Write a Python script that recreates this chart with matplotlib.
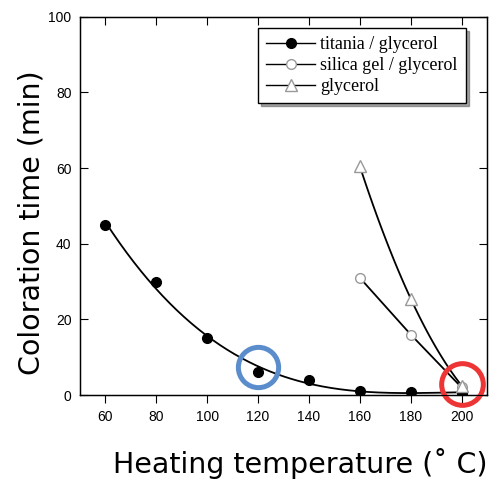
import numpy as np
import matplotlib
matplotlib.use("Agg")
import matplotlib.pyplot as plt
from matplotlib.lines import Line2D

# data
temp_titania = [60, 80, 100, 120, 140, 160, 180, 200]
time_titania = [45, 30, 15, 6, 4, 1, 0.8, 0.5]
temp_silica = [160, 180, 200]
time_silica = [31, 16, 2]
temp_glycerol = [160, 180, 200]
time_glycerol = [60.5, 25.5, 2.5]
xticks = [60, 80, 100, 120, 140, 160, 180, 200]
yticks = [0, 20, 40, 60, 80, 100]

fig = plt.figure(figsize=(4.9, 4.8), dpi=100)
ax = fig.add_axes([0.163, 0.177, 0.831, 0.788])

# smooth fits through the points
xs = np.linspace(60, 200, 200)
p = np.polyfit(temp_titania, time_titania, 3)
ax.plot(xs, np.polyval(p, xs), color="black", lw=1.3, zorder=2)
xs2 = np.linspace(160, 200, 100)
p2 = np.polyfit(temp_glycerol, time_glycerol, 2)
ax.plot(xs2, np.polyval(p2, xs2), color="black", lw=1.3, zorder=2)
ax.plot(temp_silica, time_silica, color="black", lw=1.3, zorder=2)

ax.plot(temp_titania, time_titania, "o", ms=7, color="black", zorder=3)
ax.plot(temp_silica, time_silica, "o", ms=7, mfc="white", mec="#999999", mew=1, zorder=3)
ax.plot(temp_glycerol, time_glycerol, "^", ms=8, mfc="white", mec="#999999", mew=1, zorder=3)

# highlight circles
ax.plot([120], [7.5], "o", ms=29, mfc="none", mec="#5b8ccc", mew=3.6, zorder=4, clip_on=False)
ax.plot([200], [3], "o", ms=30, mfc="none", mec="#ee3535", mew=3.6, zorder=4, clip_on=False)

ax.set_xlim(50, 210)
ax.set_ylim(0, 100)
ax.set_xticks(xticks)
ax.set_yticks(yticks)
ax.tick_params(axis="x", direction="out", length=6, labelsize=10, pad=5)
ax.tick_params(axis="y", direction="in", length=6, labelsize=10, pad=6, right=True)
for lab in ax.get_xticklabels() + ax.get_yticklabels():
    lab.set_family("Liberation Sans")
for s in ax.spines.values():
    s.set_linewidth(1.0)

# top ticks pointing inward
top = ax.twiny()
top.set_xlim(ax.get_xlim())
top.set_xticks(xticks)
top.tick_params(axis="x", direction="in", length=6, labeltop=False)

ax.set_xlabel("Heating temperature (\u02da C)", fontsize=20.5, family="DejaVu Sans")
ax.set_ylabel("Coloration time (min)", fontsize=20.5, family="DejaVu Sans")
ax.xaxis.set_label_coords(0.54, -0.14)
ax.yaxis.set_label_coords(-0.085, 0.455)

handles = [
    Line2D([], [], color="black", lw=1.0, marker="o", ms=7, mfc="black", mec="black"),
    Line2D([], [], color="black", lw=1.0, marker="o", ms=7, mfc="white", mec="#999999"),
    Line2D([], [], color="black", lw=1.0, marker="^", ms=8, mfc="white", mec="#999999"),
]
labels = ["titania / glycerol", "silica gel / glycerol", "glycerol"]
leg = top.legend(handles, labels, loc="upper right", bbox_to_anchor=(0.948, 0.971),
                 prop={"family": "Liberation Serif", "size": 13}, fancybox=False,
                 shadow=True, framealpha=1, edgecolor="black", handlelength=2.7,
                 borderpad=0.45, labelspacing=0.22, handletextpad=0.3, borderaxespad=0)
leg.get_frame().set_linewidth(1.0)

fig.savefig("out.png", dpi=100)
